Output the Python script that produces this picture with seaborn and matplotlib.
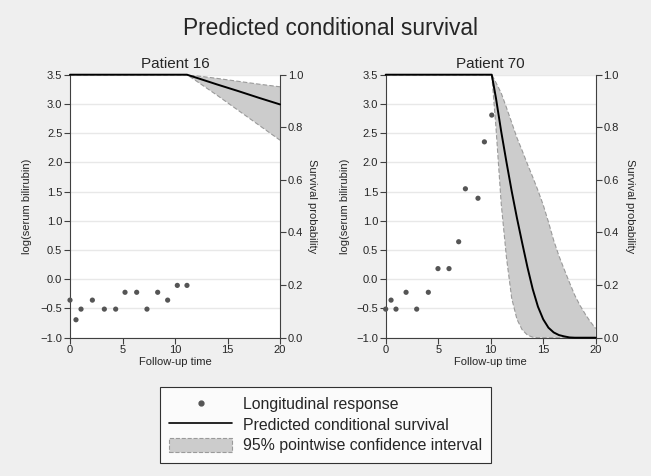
import matplotlib
matplotlib.use("Agg")
import matplotlib.pyplot as plt
import pandas as pd
import seaborn as sns
from matplotlib.lines import Line2D
from matplotlib.patches import Patch

# longitudinal measurements: follow-up time and log(serum bilirubin)
p16_time = [0.0, 0.57, 1.05, 2.13, 3.27, 4.35, 5.24, 6.35, 7.33, 8.35, 9.30, 10.22, 11.14]
p16_logbili = [-0.357, -0.693, -0.511, -0.357, -0.511, -0.511, -0.223, -0.223,
               -0.511, -0.223, -0.357, -0.105, -0.105]

p70_time = [0.0, 0.51, 0.98, 1.94, 2.95, 4.06, 4.98, 6.03, 6.95, 7.59, 8.79, 9.40, 10.10]
p70_logbili = [-0.511, -0.357, -0.511, -0.223, -0.511, -0.223, 0.182, 0.182,
               0.642, 1.548, 1.386, 2.351, 2.809]

# predicted conditional survival with 95% pointwise CI
p16_pred_time = [0.0, 11.14, 12.0, 14.0, 16.0, 18.0, 20.0]
p16_surv = [1.0, 1.0, 0.989, 0.963, 0.938, 0.912, 0.887]
p16_lower = [1.0, 1.0, 0.977, 0.922, 0.865, 0.808, 0.751]
p16_upper = [1.0, 1.0, 0.996, 0.986, 0.975, 0.964, 0.954]

p70_pred_time = [0.0, 10.10, 10.5, 11.0, 11.5, 12.0, 12.5, 13.0, 13.5, 14.0, 14.5, 15.0,
                 15.5, 16.0, 16.5, 17.0, 17.5, 18.0, 18.5, 19.0, 19.5, 20.0]
p70_surv = [1.0, 1.0, 0.911, 0.784, 0.668, 0.557, 0.455, 0.360, 0.268, 0.185, 0.118, 0.070,
            0.038, 0.020, 0.010, 0.005, 0.001, 0.0, 0.0, 0.0, 0.0, 0.0]
p70_lower = [1.0, 1.0, 0.800, 0.510, 0.305, 0.150, 0.070, 0.030, 0.010, 0.002, 0.0, 0.0,
             0.0, 0.0, 0.0, 0.0, 0.0, 0.0, 0.0, 0.0, 0.0, 0.0]
p70_upper = [1.0, 1.0, 0.970, 0.930, 0.875, 0.818, 0.760, 0.711, 0.660, 0.611, 0.560, 0.505,
             0.440, 0.370, 0.311, 0.260, 0.210, 0.162, 0.123, 0.090, 0.060, 0.035]

patients = ["Patient 16", "Patient 70"]
left_ticks = [-1.0, -0.5, 0.0, 0.5, 1.0, 1.5, 2.0, 2.5, 3.0, 3.5]
right_ticks = [0.0, 0.2, 0.4, 0.6, 0.8, 1.0]
x_ticks = [0, 5, 10, 15, 20]

sns.set_theme(style="white")
plt.rcParams["font.family"] = ["Liberation Sans", "DejaVu Sans"]
plt.rcParams["axes.unicode_minus"] = True

BG = "#efefef"
AXC = "#404040"
BAND = "#cccccc"
EDGE = "#9a9a9a"
DOT = "#555555"

fig = plt.figure(figsize=(6.51, 4.76), dpi=100, facecolor=BG)

panels = [
    (p16_time, p16_logbili, p16_pred_time, p16_surv, p16_lower, p16_upper),
    (p70_time, p70_logbili, p70_pred_time, p70_surv, p70_lower, p70_upper),
]
lefts = [70 / 651, 385.7 / 651]
label_x = [(-0.181, 1.151), (-0.172, 1.163)]

for name, left, lx, (t, y, pt, s, lo, hi) in zip(patients, lefts, label_x, panels):
    ax = fig.add_axes([left, 1 - 337.7 / 476, 210 / 651, 263 / 476])
    ax.set_facecolor("white")
    obs = pd.DataFrame({"time": t, "logbili": y})
    sns.scatterplot(data=obs, x="time", y="logbili", ax=ax, color=DOT, s=14,
                    edgecolor="none", zorder=3, clip_on=False)
    ax.set_xlim(0, 20)
    ax.set_ylim(-1.0, 3.5)
    ax.set_yticks(left_ticks)
    ax.set_yticklabels([f"{v:.1f}".replace("-", "\u2212") for v in left_ticks])
    ax.set_xticks(x_ticks)
    ax.grid(axis="y", color="#e8e8e8", linewidth=1.0)
    ax.grid(axis="x", visible=False)
    ax.set_xlabel("Follow-up time", fontsize=8, labelpad=1)
    ax.set_ylabel("log(serum bilirubin)", fontsize=8)
    ax.yaxis.set_label_coords(lx[0], 0.5)
    ax.set_title(name, fontsize=11, pad=4.5)
    for side in ["left", "bottom"]:
        ax.spines[side].set_color(AXC)
        ax.spines[side].set_linewidth(0.8)
    ax.spines["top"].set_visible(False)
    ax.spines["right"].set_visible(False)
    ax.tick_params(axis="both", direction="out", length=4, width=0.8, color=AXC,
                   labelsize=8, pad=1.5, left=True, bottom=True)

    ax2 = ax.twinx()
    pred = pd.DataFrame({"time": pt, "surv": s, "lower": lo, "upper": hi})
    ax2.fill_between(pred["time"], pred["lower"], pred["upper"], facecolor=BAND,
                     edgecolor="none", zorder=1)
    ax2.plot(pred["time"], pred["lower"], color=EDGE, ls=(0, (4, 2)), lw=0.8, zorder=2)
    ax2.plot(pred["time"], pred["upper"], color=EDGE, ls=(0, (4, 2)), lw=0.8, zorder=2)
    sns.lineplot(data=pred, x="time", y="surv", ax=ax2, color="black", lw=1.4,
                 zorder=4, clip_on=False)
    ax2.set_xlim(0, 20)
    ax2.set_ylim(0, 1)
    ax2.set_yticks(right_ticks)
    ax2.set_yticklabels([f"{v:.1f}" for v in right_ticks])
    ax2.set_ylabel("Survival probability", fontsize=8, rotation=270, va="center")
    ax2.yaxis.set_label_coords(lx[1], 0.5)
    ax2.set_xlabel("")
    for side in ["left", "bottom", "top"]:
        ax2.spines[side].set_visible(False)
    ax2.spines["right"].set_color(AXC)
    ax2.spines["right"].set_linewidth(0.8)
    ax2.tick_params(axis="y", direction="out", length=4, width=0.8, color=AXC,
                    labelsize=8, pad=1.5, right=True)
    ax2.grid(False)

fig.text(331 / 651, 1 - 35 / 476, "Predicted conditional survival", fontsize=16.4,
         ha="center", va="baseline")

handles = [
    Line2D([], [], marker="o", color=DOT, ls="none", markersize=3.5),
    Line2D([], [], color="black", lw=1.2),
    Patch(facecolor=BAND, edgecolor=EDGE, linestyle="--", linewidth=0.8),
]
labels = ["Longitudinal response", "Predicted conditional survival",
          "95% pointwise confidence interval"]
leg = fig.legend(handles, labels, loc="upper center", bbox_to_anchor=(325.5 / 651, 1 - 387 / 476),
                 fontsize=11.4, frameon=True, fancybox=False, handlelength=4.0,
                 handleheight=1.0, borderpad=0.6, labelspacing=0.32, handletextpad=0.65,
                 borderaxespad=0)
leg.get_frame().set_edgecolor("black")
leg.get_frame().set_linewidth(0.8)
leg.get_frame().set_facecolor("white")

fig.savefig("out.png", dpi=100, facecolor=BG)
